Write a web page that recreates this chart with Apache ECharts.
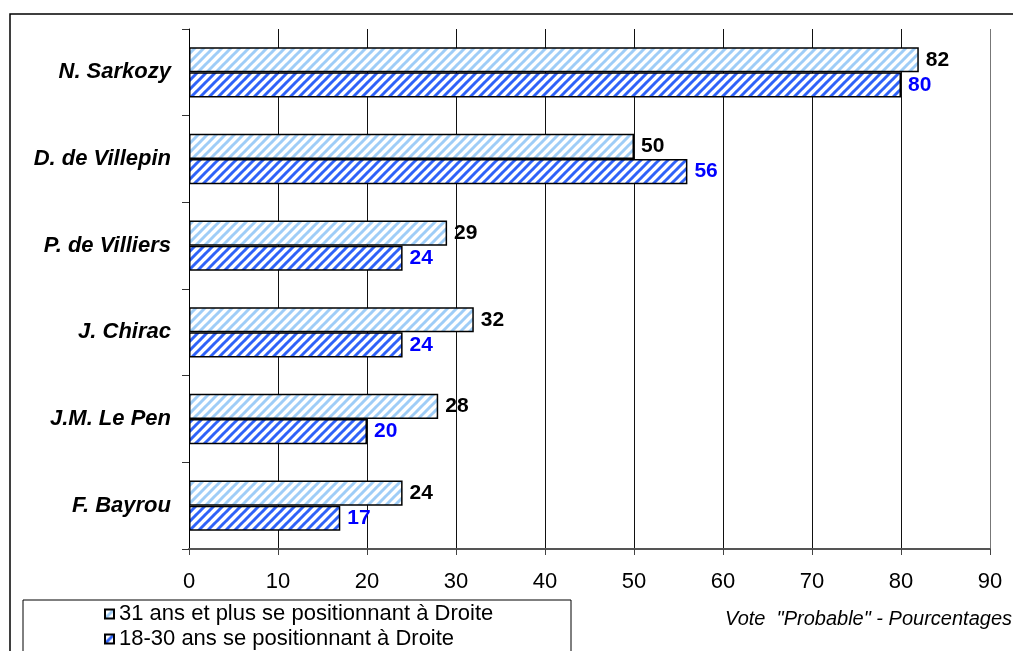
<!DOCTYPE html>
<html><head><meta charset="utf-8">
<script src="https://cdn.jsdelivr.net/npm/echarts@6/dist/echarts.min.js"></script>
<style>html,body{margin:0;padding:0;background:#fff}#c{width:1013px;height:651px}</style>
</head><body><div id="c"></div>
<script>
const categories = ['N. Sarkozy', 'D. de Villepin', 'P. de Villiers', 'J. Chirac', 'J.M. Le Pen', 'F. Bayrou'];
const seriesNames = ['31 ans et plus se positionnant à Droite', '18-30 ans se positionnant à Droite'];
const older = [82, 50, 29, 32, 28, 24];
const younger = [80, 56, 24, 24, 20, 17];
const xTicks = [0, 10, 20, 30, 40, 50, 60, 70, 80, 90];
const note = 'Vote  "Probable" - Pourcentages';

function hatch(stripe) {
  const s = 9;
  const cv = document.createElement('canvas');
  cv.width = s; cv.height = s;
  const g = cv.getContext('2d');
  g.fillStyle = '#ffffff'; g.fillRect(0, 0, s, s);
  g.strokeStyle = stripe; g.lineWidth = 3;
  for (let k = -1; k <= 1; k++) {
    g.beginPath();
    g.moveTo(k * s - 1, s + 1);
    g.lineTo(k * s + s + 1, -1);
    g.stroke();
  }
  return { image: cv, repeat: 'repeat' };
}

const gridColors = xTicks.map((v, i) => i === xTicks.length - 1 ? '#777' : '#111');

const chart = echarts.init(document.getElementById('c'));
const font = '"Liberation Sans", Arial, sans-serif';
chart.setOption({
  animation: false,
  textStyle: { fontFamily: font },
  grid: { left: 189, right: 23, top: 29, bottom: 102 },
  xAxis: {
    type: 'value', min: xTicks[0], max: xTicks[xTicks.length - 1], interval: 10,
    axisLine: { show: true, lineStyle: { color: '#555', width: 2 } },
    axisTick: { show: true, length: 6, lineStyle: { color: '#444' } },
    axisLabel: { color: '#000', fontSize: 22, margin: 22, fontFamily: font },
    splitLine: { show: true, lineStyle: { color: gridColors, width: 1 } }
  },
  yAxis: {
    type: 'category', data: categories, inverse: true,
    axisLine: { show: true, lineStyle: { color: '#000', width: 1 } },
    axisTick: { show: true, length: 7, lineStyle: { color: '#333' } },
    axisLabel: { color: '#000', fontSize: 22, fontWeight: 'bold', fontStyle: 'italic', margin: 18, fontFamily: font }
  },
  legend: {
    orient: 'vertical', left: 104, top: 603, padding: 0, icon: 'rect',
    itemWidth: 9, itemHeight: 9, itemGap: 3,
    textStyle: { fontSize: 22, lineHeight: 22, color: '#000', fontFamily: font },
    data: seriesNames
  },
  series: [
    {
      name: seriesNames[0], type: 'bar', data: older, barGap: '0%', barCategoryGap: '42%',
      itemStyle: { color: hatch('#9fcdf7'), borderColor: '#000', borderWidth: 1.5 },
      label: { show: true, position: 'right', distance: 7, color: '#000', fontSize: 21, fontWeight: 'bold', fontFamily: font }
    },
    {
      name: seriesNames[1], type: 'bar', data: younger, barGap: '0%', barCategoryGap: '42%',
      itemStyle: { color: hatch('#2f62f8'), borderColor: '#000', borderWidth: 1.5 },
      label: { show: true, position: 'right', distance: 7, color: '#0000ff', fontSize: 21, fontWeight: 'bold', fontFamily: font }
    }
  ],
  graphic: [
    { type: 'rect', shape: { x: 10, y: 14, width: 1010, height: 650 }, style: { fill: 'none', stroke: '#000', lineWidth: 1.5 }, silent: true },
    { type: 'rect', shape: { x: 23, y: 600, width: 548, height: 60 }, style: { fill: 'none', stroke: '#000', lineWidth: 1 }, silent: true },
    { type: 'text', right: 1, top: 609, style: { text: note, fontSize: 20, fontStyle: 'italic', fill: '#000', fontFamily: font } }
  ]
});
</script></body></html>
